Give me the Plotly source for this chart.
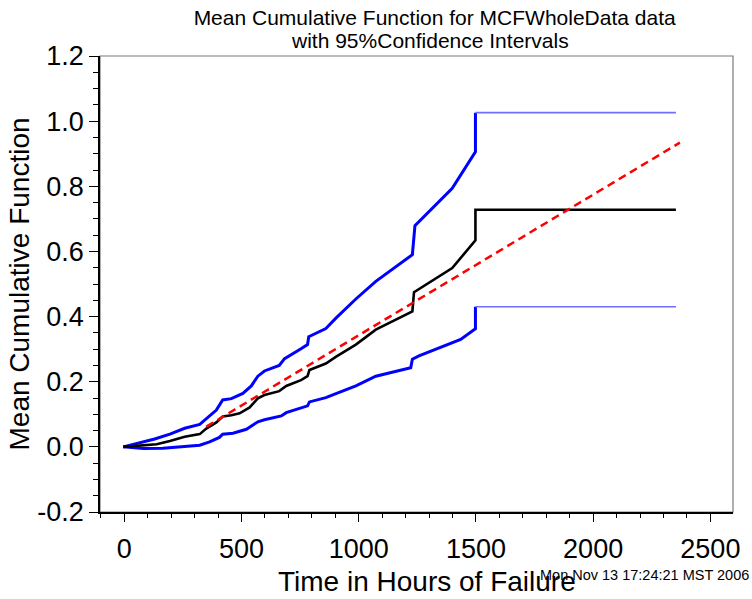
import plotly.graph_objects as go

# ---- data ----
t_mcf = [-4, 53, 138, 195, 258, 322, 350, 393, 420, 457, 492, 535, 570, 598, 661, 691,
         754, 782, 790, 860, 904, 988, 1073, 1229, 1236, 1399, 1498, 1498, 2353]
mcf = [0.0, 0.003, 0.008, 0.018, 0.031, 0.039, 0.056, 0.075, 0.093, 0.097, 0.103, 0.121,
       0.149, 0.159, 0.171, 0.187, 0.205, 0.217, 0.236, 0.256, 0.277, 0.314, 0.360, 0.416,
       0.475, 0.549, 0.634, 0.728, 0.728]

t_upper = [-4, 130, 195, 258, 322, 350, 393, 420, 457, 506, 542, 570, 598, 661, 684, 754,
           782, 787, 860, 904, 988, 1073, 1187, 1229, 1240, 1399, 1498, 1498, 2353]
upper = [0.0, 0.024, 0.039, 0.057, 0.069, 0.087, 0.113, 0.144, 0.148, 0.164, 0.187, 0.217,
         0.233, 0.250, 0.271, 0.301, 0.314, 0.338, 0.363, 0.396, 0.454, 0.508, 0.570, 0.590,
         0.679, 0.794, 0.906, 1.026, 1.026]

t_lower = [-4, 81, 165, 322, 364, 406, 420, 464, 521, 570, 598, 670, 691, 782, 790, 860,
           895, 988, 1073, 1222, 1229, 1257, 1435, 1498, 1498, 2353]
lower = [0.0, -0.005, -0.004, 0.005, 0.015, 0.029, 0.039, 0.042, 0.054, 0.077, 0.083, 0.095,
         0.105, 0.126, 0.138, 0.151, 0.161, 0.187, 0.217, 0.243, 0.269, 0.279, 0.330, 0.363,
         0.430, 0.430]

t_fit = [350, 2370]
fit = [0.062, 0.934]

x_tick_vals = [0, 500, 1000, 1500, 2000, 2500]
x_tick_text = ["0", "500", "1000", "1500", "2000", "2500"]
y_tick_vals = [-0.2, 0.0, 0.2, 0.4, 0.6, 0.8, 1.0, 1.2]
y_tick_text = ["-0.2", "0.0", "0.2", "0.4", "0.6", "0.8", "1.0", "1.2"]

FONT = "Liberation Sans, Arial, sans-serif"
BLUE = "#0000ff"
LIGHT_BLUE = "#6e6eff"

fig = go.Figure()

# confidence bounds: rising part thick, flat tail thinner/lighter as in reference
for tx, vy in ((t_upper, upper), (t_lower, lower)):
    fig.add_trace(go.Scatter(x=tx[:-1], y=vy[:-1], mode="lines",
                             line=dict(color=BLUE, width=3), showlegend=False,
                             hoverinfo="skip"))
    fig.add_trace(go.Scatter(x=tx[-2:], y=vy[-2:], mode="lines",
                             line=dict(color=LIGHT_BLUE, width=1.6), showlegend=False,
                             hoverinfo="skip"))

fig.add_trace(go.Scatter(x=t_mcf, y=mcf, mode="lines",
                         line=dict(color="black", width=2.6), showlegend=False))
fig.add_trace(go.Scatter(x=t_fit, y=fit, mode="lines",
                         line=dict(color="#ff0000", width=2.5, dash="8px,5px"),
                         showlegend=False))

fig.update_layout(
    width=752, height=599,
    margin=dict(l=100, r=17, t=56, b=86.5),
    paper_bgcolor="white", plot_bgcolor="white",
    font=dict(family=FONT, color="black"),
    title=dict(text="Mean Cumulative Function for MCFWholeData data",
               font=dict(size=21, family=FONT, color="black"),
               x=0.578, xanchor="center", xref="container",
               y=1 - 17.5 / 599, yanchor="middle", yref="container"),
    annotations=[
        dict(text="with 95%Confidence Intervals", xref="paper", yref="paper",
             x=(431 - 100) / 635, y=1 + 15.5 / 456.5, xanchor="center", yanchor="middle",
             showarrow=False, font=dict(size=21, family=FONT, color="black")),
        dict(text="Time in Hours of Failure", xref="paper", yref="paper",
             x=(428 - 100) / 635, y=(512.5 - 582) / 456.5, xanchor="center",
             yanchor="middle", showarrow=False,
             font=dict(size=28, family=FONT, color="black")),
        dict(text="Mon Nov 13 17:24:21 MST 2006", xref="paper", yref="paper",
             x=(539 - 100) / 635, y=(512.5 - 575.5) / 456.5, xanchor="left",
             yanchor="middle", showarrow=False,
             font=dict(size=14.5, family=FONT, color="black")),
    ],
    shapes=[dict(type="rect", xref="paper", yref="paper", x0=0, x1=1, y0=0, y1=1,
                 line=dict(color="#7a7a7a", width=1.2), layer="below")],
)

fig.update_xaxes(
    range=[-103.3, 2596.5], tickmode="array", tickvals=x_tick_vals, ticktext=x_tick_text,
    ticks="outside", ticklen=8, tickwidth=1, tickcolor="black",
    minor=dict(dtick=100, tick0=0, ticks="outside", ticklen=4, tickwidth=1,
               tickcolor="black"),
    showline=True, linecolor="black", linewidth=1.5,
    showgrid=False, zeroline=False, ticklabelstandoff=4,
    tickfont=dict(size=27, family=FONT, color="black"),
)
fig.update_yaxes(
    range=[-0.2, 1.2], tickmode="array", tickvals=y_tick_vals, ticktext=y_tick_text,
    ticks="outside", ticklen=9, tickwidth=1, tickcolor="black",
    minor=dict(dtick=0.05, tick0=0, ticks="outside", ticklen=5, tickwidth=1,
               tickcolor="black"),
    showline=True, linecolor="black", linewidth=1.5,
    showgrid=False, zeroline=False,
    tickfont=dict(size=27, family=FONT, color="black"),
    title=dict(text="Mean Cumulative Function", font=dict(size=28, family=FONT),
               standoff=0),
)

fig.write_html("out.html")
